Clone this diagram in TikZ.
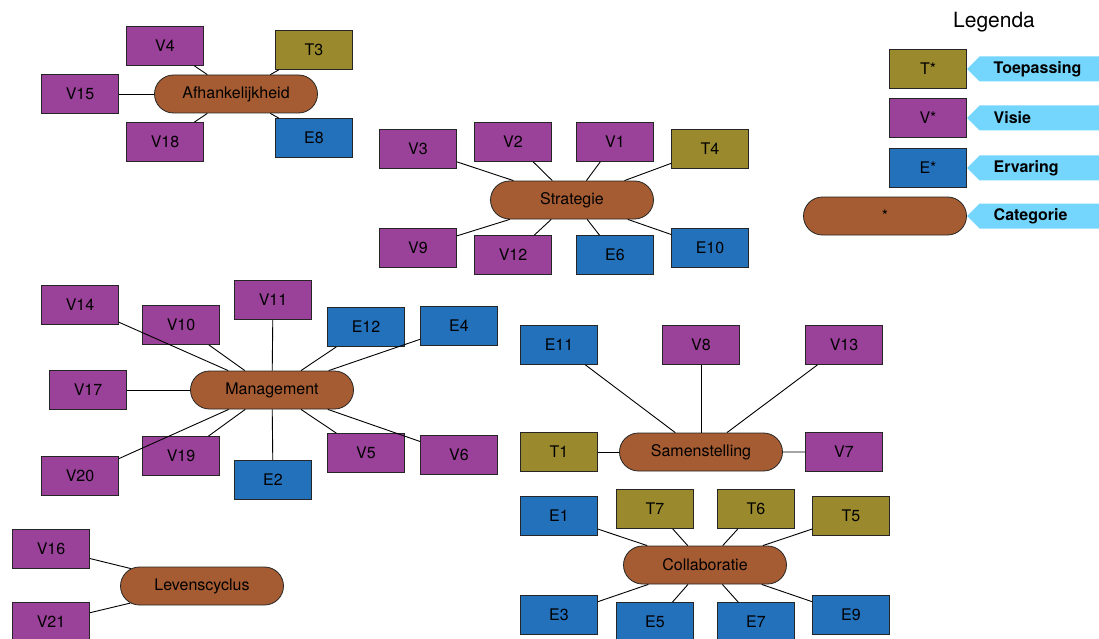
\documentclass[tikz,border=0pt]{standalone}
\usepackage{fontspec}
\setmainfont{TeX Gyre Heros}
\usepackage{tikz}
\usetikzlibrary{shapes.misc, shapes.symbols, positioning}

\definecolor{visiecol}{HTML}{9A4199}
\definecolor{ervcol}{HTML}{2370BB}
\definecolor{toepcol}{HTML}{9A8A2D}
\definecolor{catcol}{HTML}{A65C32}
\definecolor{tagcol}{HTML}{74D6FD}

\begin{document}
\begin{tikzpicture}[x=1pt, y=-1pt,
    box/.style={rectangle, draw=black!85, line width=0.8pt, minimum width=77pt, minimum height=39pt, inner sep=0pt, font=\fontsize{16}{19}\selectfont},
    visie/.style={box, fill=visiecol},
    ervaring/.style={box, fill=ervcol},
    toepassing/.style={box, fill=toepcol},
    categorie/.style={rounded rectangle, draw=black!85, line width=0.8pt, fill=catcol, minimum width=163pt, minimum height=38pt, inner sep=0pt, font=\fontsize{16}{19}\selectfont},
    tag/.style={signal, signal to=west, signal pointer angle=90, fill=tagcol, minimum height=25pt, text width=100pt, inner xsep=14pt, inner ysep=0pt, align=left, font=\fontsize{16}{19}\selectfont\bfseries},
    link/.style={line width=0.9pt}
]
    \useasboundingbox (0,0) rectangle (1099,639);
    \clip (0,0) rectangle (1099,639);

    % Afhankelijkheid
    \node[categorie] (afh) at (236,94) {Afhankelijkheid};
    \node[visie] (v4) at (165,46) {V4};
    \node[toepassing] (t3) at (314,50) {T3};
    \node[visie] (v15) at (80,94) {V15};
    \node[visie] (v18) at (165,142) {V18};
    \node[ervaring] (e8) at (314,138) {E8};

    \draw[link] (v4) -- (afh);
    \draw[link] (t3) -- (afh);
    \draw[link] (v15) -- (afh);
    \draw[link] (v18) -- (afh);
    \draw[link] (e8) -- (afh);

    % Strategie
    \node[categorie] (strat) at (572,200) {Strategie};
    \node[visie] (v3) at (418,149) {V3};
    \node[visie] (v2) at (513,142) {V2};
    \node[visie] (v1) at (615,142) {V1};
    \node[toepassing] (t4) at (710,149) {T4};
    \node[visie] (v9) at (418,248) {V9};
    \node[visie] (v12) at (513,255) {V12};
    \node[ervaring] (e6) at (615,255) {E6};
    \node[ervaring] (e10) at (710,248) {E10};

    \draw[link] (v3) -- (strat);
    \draw[link] (v2) -- (strat);
    \draw[link] (v1) -- (strat);
    \draw[link] (t4) -- (strat);
    \draw[link] (v9) -- (strat);
    \draw[link] (v12) -- (strat);
    \draw[link] (e6) -- (strat);
    \draw[link] (e10) -- (strat);

    % Management
    \node[categorie] (mgmt) at (272,390) {Management};
    \node[visie] (v14) at (80,305) {V14};
    \node[visie] (v10) at (181,325) {V10};
    \node[visie] (v11) at (273,300) {V11};
    \node[ervaring] (e12) at (366,327) {E12};
    \node[ervaring] (e4) at (459,326) {E4};
    \node[visie] (v17) at (88,390) {V17};
    \node[visie] (v20) at (80,476) {V20};
    \node[visie] (v19) at (181,456) {V19};
    \node[ervaring] (e2) at (273,480) {E2};
    \node[visie] (v5) at (366,453) {V5};
    \node[visie] (v6) at (459,455) {V6};

    \draw[link] (v14) -- (mgmt);
    \draw[link] (v10) -- (mgmt);
    \draw[link] (v11) -- (mgmt);
    \draw[link] (e12) -- (mgmt);
    \draw[link] (e4) -- (mgmt);
    \draw[link] (v17) -- (mgmt);
    \draw[link] (v20) -- (mgmt);
    \draw[link] (v19) -- (mgmt);
    \draw[link] (e2) -- (mgmt);
    \draw[link] (v5) -- (mgmt);
    \draw[link] (v6) -- (mgmt);

    % Samenstelling
    \node[categorie] (samen) at (701,452) {Samenstelling};
    \node[ervaring] (e11) at (559,345) {E11};
    \node[visie] (v8) at (701,345) {V8};
    \node[visie] (v13) at (844,345) {V13};
    \node[toepassing] (t1) at (559,452) {T1};
    \node[visie] (v7) at (844,452) {V7};

    \draw[link] (e11) -- (samen);
    \draw[link] (v8) -- (samen);
    \draw[link] (v13) -- (samen);
    \draw[link] (t1) -- (samen);
    \draw[link] (v7) -- (samen);

    % Collaboratie
    \node[categorie] (collab) at (705,565) {Collaboratie};
    \node[ervaring] (e1) at (559,516) {E1};
    \node[toepassing] (t7) at (655,509) {T7};
    \node[toepassing] (t6) at (756,509) {T6};
    \node[toepassing] (t5) at (851,516) {T5};
    \node[ervaring] (e3) at (559,615) {E3};
    \node[ervaring] (e5) at (655,622) {E5};
    \node[ervaring] (e7) at (756,622) {E7};
    \node[ervaring] (e9) at (851,615) {E9};

    \draw[link] (e1) -- (collab);
    \draw[link] (t7) -- (collab);
    \draw[link] (t6) -- (collab);
    \draw[link] (t5) -- (collab);
    \draw[link] (e3) -- (collab);
    \draw[link] (e5) -- (collab);
    \draw[link] (e7) -- (collab);
    \draw[link] (e9) -- (collab);

    % Levenscyclus
    \node[categorie] (leven) at (202,586) {Levenscyclus};
    \node[visie] (v16) at (51,549) {V16};
    \node[visie] (v21) at (51,622) {V21};

    \draw[link] (v16) -- (leven);
    \draw[link] (v21) -- (leven);

    % Legenda
    \node[font=\fontsize{21}{25}\selectfont] (legtitle) at (994,22) {Legenda};
    \node[toepassing] (legT) at (928,69) {T*};
    \node[visie] (legV) at (928,118) {V*};
    \node[ervaring] (legE) at (928,168) {E*};
    \node[categorie] (legC) at (885,216) {*};

    \node[tag, right=0pt of legT] (tagT) {Toepassing};
    \node[tag, right=0pt of legV] (tagV) {Visie};
    \node[tag, right=0pt of legE] (tagE) {Ervaring};
    \node[tag, right=0pt of legC] (tagC) {Categorie};
\end{tikzpicture}
\end{document}
